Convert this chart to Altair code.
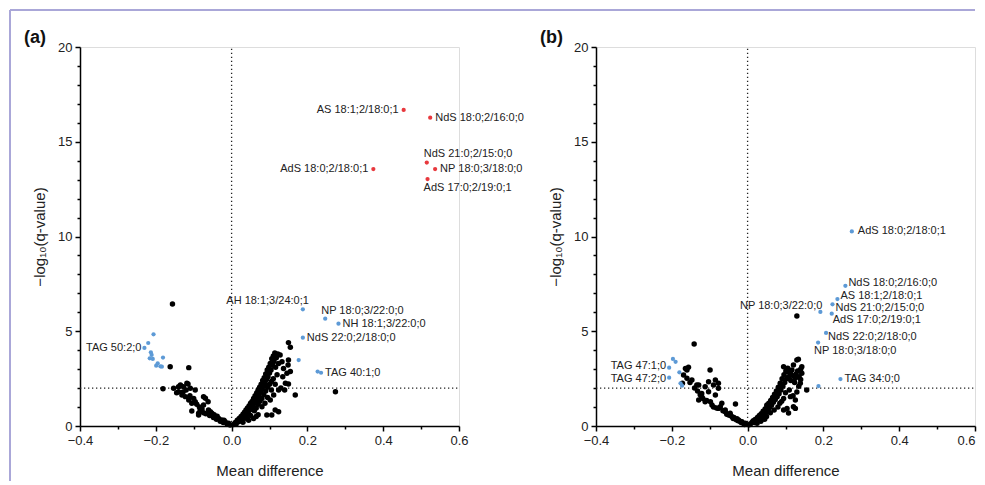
import altair as alt
import pandas as pd

# ---------------- data: panel (a) ----------------
a_black_x = [-0.156, -0.162, -0.113, -0.181, -0.153, -0.135, -0.127, -0.115, -0.109, -0.140, -0.118, -0.096,
             -0.140, -0.131, -0.122, -0.113, -0.105, -0.096, -0.105, -0.069, -0.062, -0.074, -0.083, -0.087,
             -0.074, -0.061, -0.052, -0.043, -0.034, -0.026, -0.017, -0.008, -0.074, -0.087, -0.145, -0.128,
             -0.120, -0.110, -0.100, -0.092, -0.085, -0.078, -0.068, -0.058, -0.048, -0.040, -0.030, -0.022,
             -0.012, -0.004, -0.056, -0.046, -0.038, -0.020,
             0.005, 0.010, 0.012, 0.015, 0.018, 0.020, 0.022, 0.025, 0.027, 0.030, 0.032, 0.034, 0.036, 0.038,
             0.040, 0.042, 0.044, 0.046, 0.048, 0.050, 0.052, 0.054, 0.056, 0.058, 0.060, 0.062, 0.064, 0.066,
             0.068, 0.070, 0.072, 0.074, 0.076, 0.078, 0.080, 0.082, 0.084, 0.086, 0.088, 0.090, 0.092, 0.094,
             0.096, 0.098, 0.100, 0.102, 0.104, 0.106, 0.108, 0.110, 0.112, 0.114, 0.116, 0.118, 0.120, 0.122,
             0.124, 0.040, 0.050, 0.060, 0.065, 0.070, 0.075, 0.080, 0.085, 0.090, 0.095, 0.100, 0.105, 0.110,
             0.115, 0.105, 0.095, 0.088, 0.070, 0.065, 0.058, 0.045, 0.030,
             0.150, 0.155, 0.128, 0.133, 0.150, 0.149, 0.155, 0.146, 0.137, 0.142, 0.150, 0.168, 0.274, 0.124,
             0.111, 0.102, 0.115, 0.124, 0.106, 0.093, 0.080, 0.135, 0.130, 0.140]
a_black_y = [6.44, 3.13, 3.08, 1.97, 1.99, 2.16, 2.07, 2.22, 1.99, 2.07, 2.25, 1.90,
             1.81, 1.64, 1.55, 1.37, 1.20, 1.28, 0.79, 1.46, 1.28, 1.11, 0.84, 0.67,
             0.70, 0.84, 0.67, 0.49, 0.40, 0.32, 0.23, 0.14, 1.55, 0.58, 1.75, 1.80,
             1.90, 1.60, 1.45, 1.15, 1.00, 0.90, 0.65, 0.55, 0.45, 0.35, 0.25, 0.18,
             0.10, 0.05, 0.75, 0.60, 0.52, 0.30,
             0.08, 0.18, 0.10, 0.30, 0.22, 0.40, 0.28, 0.50, 0.36, 0.62, 0.45, 0.72, 0.55, 0.85,
             0.66, 0.95, 0.75, 1.05, 0.85, 1.20, 0.95, 1.30, 1.10, 1.45, 1.20, 1.60, 1.35, 1.75,
             1.50, 1.90, 1.62, 2.05, 1.78, 2.20, 1.95, 2.40, 2.10, 2.55, 2.25, 2.75, 2.45, 2.95,
             2.60, 3.10, 2.80, 3.30, 2.95, 3.55, 3.20, 3.70, 3.40, 3.85, 3.10, 3.60, 2.70, 3.80,
             3.30, 0.40, 0.55, 0.80, 0.95, 1.15, 1.30, 1.45, 1.65, 1.85, 2.05, 2.20, 2.35, 2.50,
             2.20, 1.90, 1.50, 1.20, 0.60, 0.50, 0.40, 0.30, 0.20,
             4.40, 4.15, 3.75, 3.39, 3.48, 3.22, 2.87, 2.78, 3.04, 2.25, 2.22, 1.64, 1.81, 1.90,
             1.64, 1.37, 0.84, 0.75, 0.58, 0.58, 1.02, 2.60, 2.00, 1.90]

a_col_x = [0.454, 0.524, 0.515, 0.537, 0.517, 0.374,
           0.188, 0.247, 0.282, 0.188, 0.177, 0.227, 0.236, -0.230,
           -0.206, -0.220, -0.213, -0.211, -0.216, -0.208, -0.181, -0.199, -0.188, -0.195, -0.184]
a_col_y = [16.68, 16.27, 13.90, 13.56, 13.03, 13.56,
           6.16, 5.66, 5.40, 4.66, 3.48, 2.87, 2.81, 4.12,
           4.84, 4.38, 3.89, 3.75, 3.57, 3.54, 3.61, 3.18, 3.15, 3.31, 3.13]
a_col_group = ["up"] * 6 + ["other"] * 19
a_col_label = ["AS 18:1;2/18:0;1", "NdS 18:0;2/16:0;0", "NdS 21:0;2/15:0;0", "NP 18:0;3/18:0;0",
               "AdS 17:0;2/19:0;1", "AdS 18:0;2/18:0;1",
               "AH 18:1;3/24:0;1", "NP 18:0;3/22:0;0", "NH 18:1;3/22:0;0", "NdS 22:0;2/18:0;0", "",
               "", "TAG 40:1;0", "TAG 50:2;0",
               "", "", "", "", "", "", "", "", "", "", ""]

# ---------------- data: panel (b) ----------------
b_black_x = [-0.164, -0.156, -0.160, -0.169, -0.160, -0.147, -0.172, -0.134, -0.112, -0.103, -0.121, -0.129,
             -0.112, -0.085, -0.077, -0.085, -0.068, -0.094, -0.077, -0.059, -0.050, -0.041, -0.032, -0.024,
             -0.015, -0.006, -0.141, -0.099, -0.129, -0.103, -0.090, -0.077, -0.121, -0.098, -0.072, -0.059,
             -0.046, -0.036, -0.028, -0.020, -0.010, -0.152, -0.140, -0.132, -0.125, -0.118, -0.108, -0.090,
             -0.082, -0.065, -0.055, -0.045, -0.038, -0.025, -0.030, -0.017, -0.008,
             0.004, 0.008, 0.012, 0.015, 0.018, 0.020, 0.023, 0.026, 0.028, 0.031, 0.033, 0.036, 0.038, 0.041,
             0.043, 0.046, 0.048, 0.051, 0.053, 0.056, 0.058, 0.061, 0.063, 0.066, 0.068, 0.071, 0.073, 0.076,
             0.078, 0.081, 0.083, 0.086, 0.088, 0.091, 0.093, 0.096, 0.098, 0.101, 0.103, 0.106, 0.108, 0.111,
             0.114, 0.117, 0.120, 0.124, 0.128, 0.132, 0.136, 0.140, 0.140, 0.135, 0.130, 0.120, 0.110, 0.100,
             0.095, 0.090, 0.085, 0.080, 0.070, 0.060, 0.050, 0.045, 0.035, 0.025,
             0.130, 0.134, 0.121, 0.143, 0.095, 0.104, 0.113, 0.143, 0.126, 0.139, 0.156, 0.113, 0.121, 0.126,
             0.104, 0.095, 0.126, 0.108, 0.130, 0.051, 0.042]
b_black_y = [3.04, 3.10, 2.95, 2.69, 2.52, 2.43, 2.25, 2.16, 2.07, 1.81, 1.55, 1.37,
             1.28, 2.43, 2.25, 1.64, 1.20, 1.11, 0.93, 0.75, 0.58, 0.49, 1.16, 0.32,
             0.23, 0.14, 4.33, 2.96, 2.16, 2.34, 2.16, 1.99, 1.72, 1.28, 1.02, 0.84,
             0.67, 0.45, 0.38, 0.25, 0.12, 2.30, 2.00, 1.85, 1.65, 1.45, 1.35, 1.00,
             0.95, 0.80, 0.62, 0.55, 0.40, 0.28, 0.33, 0.18, 0.08,
             0.06, 0.12, 0.20, 0.28, 0.18, 0.35, 0.25, 0.45, 0.32, 0.55, 0.40, 0.65, 0.50, 0.78,
             0.60, 0.90, 0.72, 1.05, 0.85, 1.20, 0.98, 1.35, 1.10, 1.50, 1.25, 1.68, 1.40, 1.85,
             1.55, 2.05, 1.70, 2.25, 1.90, 2.50, 2.10, 2.70, 2.30, 2.90, 2.50, 3.05, 2.60, 2.85,
             2.40, 2.95, 2.65, 2.30, 2.75, 2.90, 2.60, 3.00, 2.45, 2.10, 1.80, 1.60, 1.90, 1.75,
             1.45, 1.30, 1.20, 1.00, 0.85, 0.70, 0.50, 0.35, 0.25, 0.15,
             3.48, 3.52, 3.22, 3.13, 3.13, 2.87, 2.78, 2.78, 2.52, 2.25, 1.90, 1.55, 1.02, 1.37,
             0.93, 0.84, 0.93, 0.69, 5.80, 1.11, 0.75]

b_col_x = [0.275, 0.258, 0.237, 0.224, 0.222, 0.192, 0.207, 0.186, 0.245, 0.187,
           -0.207, -0.207, -0.197, -0.190, -0.180, -0.177, -0.173]
b_col_y = [10.27, 7.40, 6.70, 6.42, 5.93, 6.02, 4.91, 4.40, 2.48, 2.11,
           3.08, 2.55, 3.54, 3.39, 2.83, 2.25, 2.13]
b_col_group = ["other"] * 17
b_col_label = ["AdS 18:0;2/18:0;1", "NdS 18:0;2/16:0;0", "AS 18:1;2/18:0;1", "NdS 21:0;2/15:0;0",
               "AdS 17:0;2/19:0;1", "NP 18:0;3/22:0;0", "NdS 22:0;2/18:0;0", "NP 18:0;3/18:0;0",
               "TAG 34:0;0", "", "TAG 47:1;0", "TAG 47:2;0", "", "", "", "", ""]

# axis ticks
x_major = [-0.4, -0.2, 0.0, 0.2, 0.4, 0.6]
x_minor = [-0.3, -0.1, 0.1, 0.3, 0.5]
y_major = [0, 5, 10, 15, 20]
y_minor = [v for v in range(1, 20) if v % 5 != 0]
q_threshold = 2

# ---------------- styling / layout (not data) ----------------
FONT = "Liberation Sans"
COLORS = {"up": "#e8383d", "other": "#5d9ad6"}
BORDER = "#aaa7d8"
W = 379
H = 379

a_label_layout = {
    "AS 18:1;2/18:0;1": ("right", -5, 0),
    "NdS 18:0;2/16:0;0": ("left", 5, 0),
    "NdS 21:0;2/15:0;0": ("left", -3, -9),
    "NP 18:0;3/18:0;0": ("left", 5, 0),
    "AdS 17:0;2/19:0;1": ("left", -4, 9),
    "AdS 18:0;2/18:0;1": ("right", -5, 0),
    "AH 18:1;3/24:0;1": ("right", 6, -8),
    "NP 18:0;3/22:0;0": ("left", -4, -8),
    "NH 18:1;3/22:0;0": ("left", 4, 0),
    "NdS 22:0;2/18:0;0": ("left", 4, 0),
    "TAG 40:1;0": ("left", 4, 0),
    "TAG 50:2;0": ("right", -3, 0),
}
b_label_layout = {
    "AdS 18:0;2/18:0;1": ("left", 6, 0),
    "NdS 18:0;2/16:0;0": ("left", 3, -3),
    "AS 18:1;2/18:0;1": ("left", 3, -3),
    "NdS 21:0;2/15:0;0": ("left", 3, 4),
    "AdS 17:0;2/19:0;1": ("left", 1, 6),
    "NP 18:0;3/22:0;0": ("right", 2, -6),
    "NdS 22:0;2/18:0;0": ("left", 2, 4),
    "NP 18:0;3/18:0;0": ("left", -4, 8),
    "TAG 34:0;0": ("left", 4, 0),
    "TAG 47:1;0": ("right", -3, -1.5),
    "TAG 47:2;0": ("right", -3, 1.5),
}

xscale = alt.Scale(domain=[-0.4, 0.6], nice=False, zero=False)
yscale = alt.Scale(domain=[0, 20], nice=False, zero=True)
minus_expr = "replace(format(datum.value, '.1f'), '-', '\u2212')"

common_axis = dict(grid=False, domainColor="black", domainWidth=1.5, tickColor="black", tickWidth=1.5,
                   labelFont=FONT, labelFontSize=13, labelColor="#222222", titleFont=FONT,
                   titleFontSize=15, titleFontWeight="normal", titleColor="#222222")

y_axis_major = alt.Axis(values=y_major, tickSize=5, labelPadding=3,
                        title="\u2212log\u2081\u2080(q-value)", titlePadding=10, orient="left", **common_axis)
x_axis_minor = alt.Axis(values=x_minor, labels=False, domain=False, tickSize=3, tickWidth=1.5,
                        tickColor="black", grid=False, title=None, orient="bottom")
y_axis_minor = alt.Axis(values=y_minor, labels=False, domain=False, tickSize=3, tickWidth=1.5,
                        tickColor="black", grid=False, title=None, orient="left")


def x_axis_major(last_right):
    align = {"condition": {"test": "datum.value > 0.55", "value": "right"}, "value": "center"} \
        if last_right else "center"
    return alt.Axis(values=x_major, labelExpr=minus_expr, tickSize=5, labelPadding=3, labelAlign=align,
                    title="Mean difference", titlePadding=16, orient="bottom", **common_axis)


def panel(tag, black_x, black_y, col_x, col_y, col_group, col_label, label_layout, first):
    black = pd.DataFrame({"x": black_x, "y": black_y})
    col = pd.DataFrame({"x": col_x, "y": col_y, "g": col_group, "label": col_label})
    col["c"] = col["g"].map(COLORS)
    guides = pd.DataFrame({"x": [0.0, -0.4], "x2": [0.0, 0.6],
                           "y": [0.0, q_threshold], "y2": [20.0, q_threshold]})

    guide_layer = alt.Chart(guides).mark_rule(color="#222222", strokeWidth=1.3, strokeDash=[1.3, 2.7]).encode(
        x=alt.X("x:Q", scale=xscale, axis=x_axis_minor),
        x2="x2:Q",
        y=alt.Y("y:Q", scale=yscale, axis=y_axis_minor),
        y2="y2:Q",
    )
    black_layer = alt.Chart(black).mark_circle(size=30, color="#000000", opacity=1).encode(
        x=alt.X("x:Q", scale=xscale, axis=x_axis_major(not first)),
        y=alt.Y("y:Q", scale=yscale, axis=y_axis_major),
    )
    col_layer = alt.Chart(col).mark_circle(size=18, opacity=1).encode(
        x=alt.X("x:Q", scale=xscale, axis=None),
        y=alt.Y("y:Q", scale=yscale, axis=None),
        color=alt.Color("c:N", scale=None),
    )
    layers = [guide_layer, black_layer, col_layer]
    for name, (align, dx, dy) in label_layout.items():
        row = col[col["label"] == name]
        layers.append(
            alt.Chart(row).mark_text(align=align, baseline="middle", dx=dx, dy=dy, font=FONT,
                                     fontSize=11, color="#222222").encode(
                x=alt.X("x:Q", scale=xscale, axis=None),
                y=alt.Y("y:Q", scale=yscale, axis=None),
                text="label:N",
            )
        )
    one = pd.DataFrame({"t": [tag]})
    layers.append(
        alt.Chart(one).mark_text(align="left", baseline="alphabetic", font=FONT, fontSize=18,
                                 fontWeight="bold", color="#111111").encode(
            x=alt.value(-56), y=alt.value(-4), text="t:N")
    )
    if first:
        layers.append(
            alt.Chart(one).mark_rule(color=BORDER, strokeWidth=2).encode(
                x=alt.value(-70), x2=alt.value(895), y=alt.value(-37))
        )
        layers.append(
            alt.Chart(one).mark_rule(color=BORDER, strokeWidth=2).encode(
                x=alt.value(-70), y=alt.value(-37), y2=alt.value(434))
        )
    return alt.layer(*layers).resolve_axis(x="independent", y="independent").properties(width=W, height=H)


pa = panel("(a)", a_black_x, a_black_y, a_col_x, a_col_y, a_col_group, a_col_label, a_label_layout, True)
pb = panel("(b)", b_black_x, b_black_y, b_col_x, b_col_y, b_col_group, b_col_label, b_label_layout, False)

chart = alt.hconcat(pa, pb, spacing=137, bounds="flush").properties(
    padding={"left": 0, "top": 0, "right": 0, "bottom": 0}
).configure_view(stroke=None).configure(font=FONT)

chart.save("out.html", embed_options={"renderer": "svg", "actions": False})
